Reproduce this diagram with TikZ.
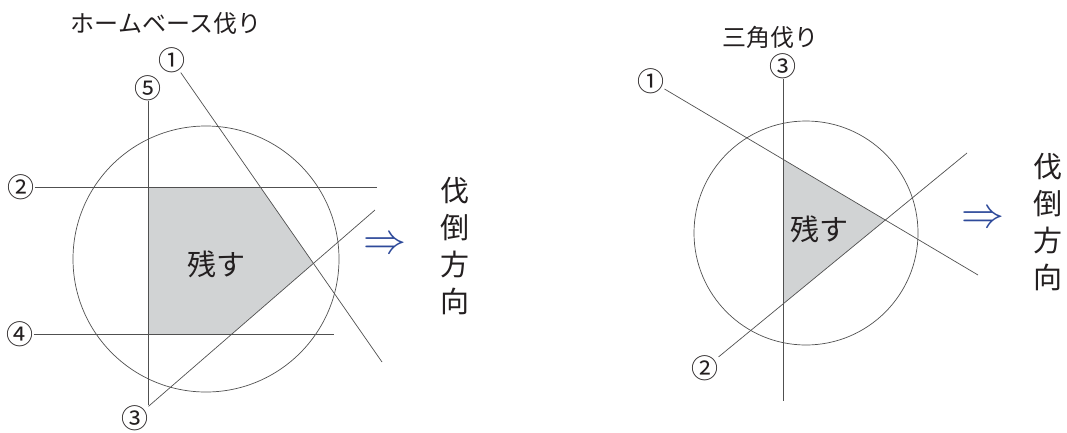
\documentclass[tikz,border=0pt]{standalone}
\usepackage{fontspec}
\setmainfont{Noto Sans CJK JP}
\usetikzlibrary{positioning}
\definecolor{LineGray}{HTML}{505050}
\definecolor{CutGray}{HTML}{D1D3D4}
\definecolor{ArrowBlue}{HTML}{2E4A9A}
\definecolor{Ink}{HTML}{231F20}

\begin{document}
\begin{tikzpicture}[x=1pt, y=-1pt,
  cutline/.style={draw=LineGray, line width=0.7pt},
  num/.style={font=\fontsize{27}{27}\selectfont, text=Ink, inner sep=0pt, outer sep=0pt},
  title/.style={font=\fontsize{24}{24}\selectfont, text=Ink},
  keep/.style={font=\fontsize{29}{29}\selectfont, text=Ink},
  fall/.style={font=\fontsize{29}{37}\selectfont, text=Ink, align=center},
  towards/.style={text=ArrowBlue, inner sep=0pt}]
\useasboundingbox (0,0) rectangle (1067,432);

% home base cut
\node[title] (htitle) at (166,23) {ホームベース伐り};
\node[num] (h1) at (172,60) {①};
\node[num] (h2) at (21,187) {②};
\node[num] (h3) at (135,418) {③};
\node[num] (h4) at (20,334) {④};
\node[num] (h5) at (148,88) {⑤};
\coordinate (h1e) at (382,362);
\coordinate (h2e) at (377,187);
\coordinate (h3e) at (375,210);
\coordinate (h4e) at (334,334);
\coordinate (h5e) at (148,405);
\fill[CutGray] (intersection of h5.center--h5e and h2.center--h2e)
  -- (intersection of h1.center--h1e and h2.center--h2e)
  -- (intersection of h1.center--h1e and h3.center--h3e)
  -- (intersection of h3.center--h3e and h4.center--h4e)
  -- (intersection of h5.center--h5e and h4.center--h4e) -- cycle;
\draw[cutline] (206,259) circle[radius=133];
\foreach \n in {1,...,5}
  \draw[cutline] (h\n) -- (h\n e);
\node[keep] (hkeep) at (216,264) {残す};
\node[towards] (harrow) at (385,246) {\scalebox{4.3}{$\Rightarrow$}};
\node[fall] (hfall) at (455,246) {伐\\倒\\方\\向};

% triangle cut
\node[title] (ttitle) at (770,37) {三角伐り};
\node[num] (t1) at (651,81) {①};
\node[num] (t2) at (705,368) {②};
\node[num] (t3) at (783,66) {③};
\coordinate (t1e) at (978,275);
\coordinate (t2e) at (967,153);
\coordinate (t3e) at (783,401);
\fill[CutGray] (intersection of t3.center--t3e and t1.center--t1e)
  -- (intersection of t1.center--t1e and t2.center--t2e)
  -- (intersection of t3.center--t3e and t2.center--t2e) -- cycle;
\draw[cutline] (806,233) circle[radius=112];
\foreach \n in {1,2,3}
  \draw[cutline] (t\n) -- (t\n e);
\node[keep] (tkeep) at (819,229) {残す};
\node[towards] (tarrow) at (983,220) {\scalebox{4.3}{$\Rightarrow$}};
\node[fall] (tfall) at (1048,222) {伐\\倒\\方\\向};
\end{tikzpicture}
\end{document}
